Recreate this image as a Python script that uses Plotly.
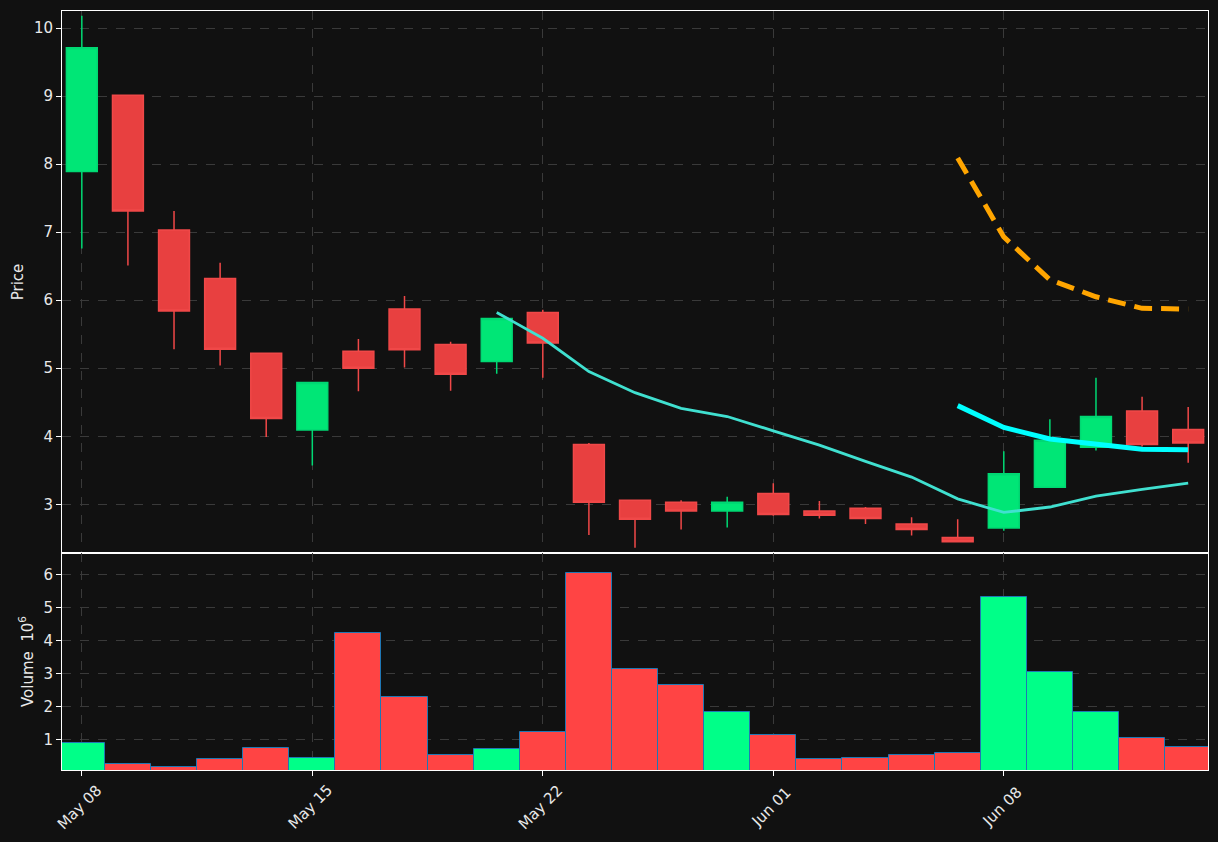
import plotly.graph_objects as go
from plotly.subplots import make_subplots
from datetime import datetime

# ---------------- data ----------------
dates = ["2023-05-08", "2023-05-09", "2023-05-10", "2023-05-11", "2023-05-12",
         "2023-05-15", "2023-05-16", "2023-05-17", "2023-05-18", "2023-05-19",
         "2023-05-22", "2023-05-23", "2023-05-24", "2023-05-25", "2023-05-26",
         "2023-06-01", "2023-06-02", "2023-06-05", "2023-06-06", "2023-06-07",
         "2023-06-08", "2023-06-09", "2023-06-12", "2023-06-13", "2023-06-14"]

opens = [7.89, 9.01, 7.03, 6.32, 5.22, 4.09, 5.25, 5.87, 5.35, 5.10,
         5.82, 3.88, 3.06, 3.03, 2.90, 3.16, 2.90, 2.94, 2.71, 2.51,
         2.65, 3.25, 3.84, 4.37, 4.10]
highs = [10.18, 9.01, 7.31, 6.55, 5.22, 4.79, 5.43, 6.06, 5.39, 5.73,
         5.86, 3.90, 3.07, 3.06, 3.11, 3.31, 3.05, 2.96, 2.81, 2.78,
         3.78, 4.25, 4.86, 4.58, 4.43]
lows = [6.76, 6.51, 5.28, 5.04, 3.99, 3.57, 4.66, 5.01, 4.67, 4.92,
        4.86, 2.55, 2.36, 2.63, 2.66, 2.83, 2.79, 2.71, 2.54, 2.45,
        2.61, 3.25, 3.79, 3.85, 3.61]
closes = [9.71, 7.31, 5.84, 5.28, 4.26, 4.79, 5.00, 5.27, 4.91, 5.73,
          5.37, 3.03, 2.78, 2.90, 3.03, 2.85, 2.84, 2.79, 2.63, 2.45,
          3.45, 3.94, 4.29, 3.88, 3.90]
volumes_m = [0.88, 0.24, 0.17, 0.39, 0.73, 0.42, 4.21, 2.27, 0.52, 0.70,
             1.21, 6.03, 3.12, 2.64, 1.82, 1.12, 0.39, 0.42, 0.52, 0.58,
             5.32, 3.03, 1.82, 1.03, 0.76]

ma_turq = [None] * 9 + [5.82, 5.44, 4.95, 4.64, 4.41, 4.29, 4.08, 3.87,
                        3.63, 3.40, 3.08, 2.88, 2.96, 3.12, 3.22, 3.31]
line_cyan = [None] * 19 + [4.45, 4.13, 3.96, 3.89, 3.81, 3.80]
line_orange = [None] * 19 + [8.09, 6.93, 6.30, 6.05, 5.88, 5.87]

tick_idx = [0, 5, 10, 15, 20]
tick_labels = [datetime.strptime(dates[i], "%Y-%m-%d").strftime("%b %d") for i in tick_idx]

# ---------------- style ----------------
BG = "#111111"
GRID = "#3a3a3a"
TXT = "#e8e8e8"
UP = "#00e676"
DOWN = "#e84040"
VUP = "#00ff88"
VDOWN = "#ff4444"
FONT = "DejaVu Sans"
FS = 15

x = list(range(len(dates)))

fig = make_subplots(rows=2, cols=1, shared_xaxes=False, vertical_spacing=0,
                    row_heights=[0.7141, 0.2859])

fig.add_trace(go.Candlestick(
    x=x, open=opens, high=highs, low=lows, close=closes,
    increasing=dict(line=dict(color="#00d873", width=1.5), fillcolor=UP),
    decreasing=dict(line=dict(color="#f04848", width=1.5), fillcolor=DOWN),
    whiskerwidth=0, showlegend=False, hoverinfo="skip"), row=1, col=1)

fig.add_trace(go.Scatter(x=x, y=ma_turq, mode="lines",
                         line=dict(color="#40E0D0", width=2.8),
                         showlegend=False, hoverinfo="skip"), row=1, col=1)
fig.add_trace(go.Scatter(x=x, y=line_cyan, mode="lines",
                         line=dict(color="#00FFFF", width=5),
                         showlegend=False, hoverinfo="skip"), row=1, col=1)
fig.add_trace(go.Scatter(x=x, y=line_orange, mode="lines",
                         line=dict(color="#FFA500", width=5, dash="18px,9px"),
                         showlegend=False, hoverinfo="skip"), row=1, col=1)

vcolors = [VUP if c >= o else VDOWN for o, c in zip(opens, closes)]
fig.add_trace(go.Bar(x=x, y=volumes_m, width=1.0,
                     marker=dict(color=vcolors, line=dict(color="#1f77b4", width=1)),
                     showlegend=False, hoverinfo="skip"), row=2, col=1)

xr = [-0.43, 24.43]
common_x = dict(range=xr, showgrid=True, gridcolor=GRID, griddash="dash", gridwidth=1,
                zeroline=False, showline=True, linecolor="white", linewidth=1, mirror=True,
                tickmode="array", tickvals=tick_idx, ticktext=tick_labels,
                rangeslider=dict(visible=False))
fig.update_xaxes(**common_x, row=1, col=1)
fig.update_xaxes(showticklabels=False, ticks="", row=1, col=1)
fig.update_xaxes(**common_x, row=2, col=1)
fig.update_xaxes(ticks="outside", ticklen=5, tickcolor="white", showticklabels=False,
                 row=2, col=1)

# x tick labels: rotated 45 deg, centred on the tick (matplotlib style)
for i, lab in zip(tick_idx, tick_labels):
    fig.add_annotation(x=i, xref="x2", y=0, yref="y2 domain", text=lab,
                       showarrow=False, textangle=-45, xanchor="center", yanchor="middle",
                       yshift=-37, xshift=-2,
                       font=dict(color=TXT, size=FS, family=FONT))

common_y = dict(showgrid=True, gridcolor=GRID, griddash="dash", gridwidth=1,
                zeroline=False, showline=True, linecolor="white", linewidth=1, mirror=True,
                ticks="outside", ticklen=5, tickcolor="white",
                tickfont=dict(color=TXT, size=FS, family=FONT))
fig.update_yaxes(**common_y, range=[2.284, 10.25], tickvals=[3, 4, 5, 6, 7, 8, 9, 10],
                 title=dict(text="Price", font=dict(color=TXT, size=FS, family=FONT), standoff=6),
                 row=1, col=1)
fig.update_yaxes(**common_y, range=[0.07, 6.65], tickvals=[1, 2, 3, 4, 5, 6],
                 title=dict(text="Volume  10<sup>6</sup>", font=dict(color=TXT, size=FS, family=FONT),
                            standoff=6),
                 row=2, col=1)

fig.update_layout(
    width=1218, height=842,
    paper_bgcolor=BG, plot_bgcolor=BG,
    margin=dict(l=62, r=10, t=11, b=72),
    font=dict(family=FONT, color=TXT, size=FS),
    boxgap=0.33, boxgroupgap=0,
    showlegend=False,
    bargap=0,
)

fig.write_html("out.html")
